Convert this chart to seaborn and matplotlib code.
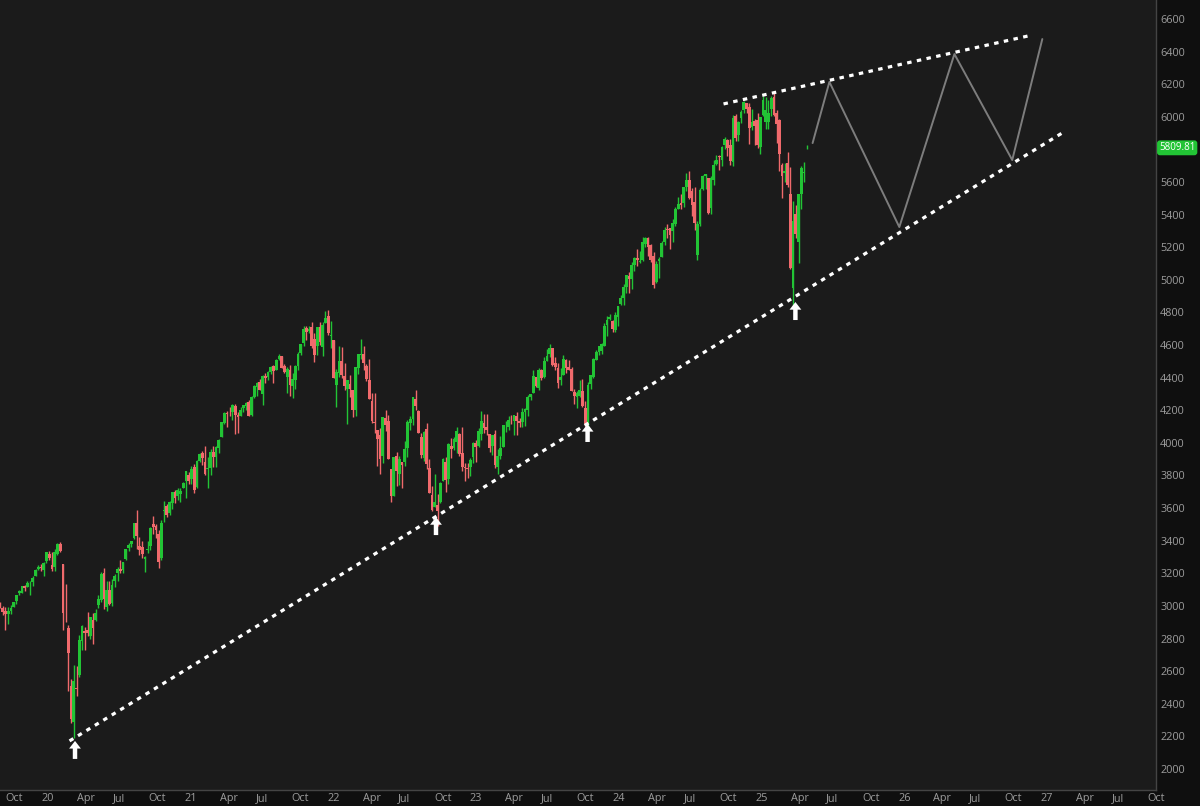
import numpy as np
import pandas as pd
import matplotlib
matplotlib.use("Agg")
import matplotlib.pyplot as plt
import matplotlib.dates as mdates
import seaborn as sns


sns.set_theme(style="dark")
plt.rcParams['font.family'] = ['Open Sans', 'DejaVu Sans']

GREEN = "#22c435"
RED = "#f06a6c"
BG_PLOT = "#1b1b1b"
BG_FIG = "#0f0f0f"
TXT = "#9d9d9d"

# weekly candles, one per week starting Monday 2019-09-02
first_week = "2019-09-02"

opens = [
    2909, 2981, 3002, 2989, 2967, 2953, 2967, 2996, 3028, 3078, 3081, 3123, 3117, 3144, 3146, 3183, 3227,
    3240, 3218, 3273, 3321, 3248, 3236, 3318, 3380, 3257, 2974, 2863, 2509, 2291, 2499, 2578, 2782, 2845,
    2854, 2815, 2915, 2914, 3005, 3038, 3199, 2994, 3095, 3018, 3155, 3205, 3224, 3219, 3289, 3356, 3380,
    3418, 3507, 3370, 3364, 3285, 3341, 3368, 3500, 3493, 3441, 3296, 3584, 3612, 3567, 3634, 3698, 3675, 3684,
    3723, 3764, 3803, 3781, 3851, 3732, 3892, 3939, 3885, 3842, 3844, 3942, 3916, 3969, 4034, 4124, 4185,
    4185, 4192, 4229, 4169, 4168, 4216, 4229, 4248, 4174, 4284, 4344, 4373, 4297, 4410, 4407, 4437, 4474,
    4450, 4513, 4535, 4469, 4403, 4449, 4348, 4385, 4474, 4553, 4610, 4707, 4689, 4712, 4640, 4592, 4710,
    4588, 4733,
    4778, 4656, 4632, 4356, 4431, 4505, 4412, 4333, 4363, 4323, 4202, 4462, 4541, 4547, 4474, 4385, 4255,
    4130, 4081, 4047, 3920, 4152, 4134, 3838, 3675, 3920, 3810, 3880, 3883, 3966, 4120, 4145, 4270, 4195,
    4035, 3909, 4083, 3849, 3682, 3609, 3619, 3638, 3765, 3882, 3780, 3982, 3966, 4005, 4052, 3939, 3853, 3843,
    3853, 3911, 3999, 3979, 4054, 4119, 4096, 4052, 3982, 4055, 3855, 3917, 3972, 4102, 4098, 4136, 4135,
    4167, 4137, 4126, 4190, 4201, 4282, 4308, 4407, 4338, 4450, 4406, 4505, 4547, 4584, 4492, 4460, 4386,
    4415, 4510, 4464, 4452, 4310, 4284, 4289, 4320, 4217, 4120, 4364, 4406, 4511, 4555, 4566, 4593, 4725, 4758,
    4745, 4690, 4772, 4853, 4888, 4957, 5026, 5003, 5093, 5131, 5111, 5123, 5219, 5258, 5211, 5149, 4987,
    5114, 5142, 5233, 5311, 5315, 5297, 5342, 5432, 5473, 5471, 5572, 5615, 5543, 5477, 5151, 5344, 5557,
    5636, 5623, 5442, 5615, 5711, 5757, 5737, 5825, 5857, 5826, 5723, 6008, 5890, 5992, 6040, 6083, 6058, 5940,
    5975, 5982, 5812, 6014, 5969, 5970, 6046, 6122, 6026, 5981, 5705, 5653, 5718, 5527, 4953, 5402, 5232,
    5526, 5656, 5808,
]
highs = [
    2985, 3021, 3022, 3002, 2993, 2993, 3008, 3027, 3067, 3098, 3121, 3127, 3154, 3150, 3183, 3226, 3248,
    3258, 3267, 3330, 3337, 3333, 3347, 3385, 3393, 3259, 3136, 2882, 2553, 2637, 2632, 2819, 2880, 2870,
    2965, 2932, 2955, 2981, 3068, 3211, 3233, 3155, 3155, 3165, 3198, 3238, 3280, 3272, 3352, 3388, 3399,
    3510, 3588, 3425, 3401, 3306, 3397, 3482, 3549, 3502, 3464, 3529, 3646, 3628, 3645, 3700, 3712, 3726, 3723,
    3760, 3827, 3823, 3861, 3870, 3895, 3937, 3950, 3978, 3915, 3960, 3983, 3978, 4021, 4129, 4191, 4194,
    4218, 4238, 4238, 4187, 4218, 4234, 4249, 4262, 4287, 4356, 4372, 4394, 4415, 4430, 4440, 4469, 4480,
    4513, 4546, 4536, 4486, 4466, 4476, 4429, 4475, 4559, 4608, 4718, 4714, 4718, 4744, 4672, 4713, 4743,
    4741, 4808,
    4818, 4749, 4632, 4453, 4595, 4590, 4490, 4338, 4416, 4325, 4465, 4546, 4637, 4593, 4484, 4513, 4308,
    4307, 4081, 4090, 4160, 4204, 4169, 3838, 3913, 3945, 3919, 3880, 4012, 4140, 4167, 4280, 4325, 4203,
    4062, 4076, 4119, 3900, 3736, 3807, 3685, 3762, 3905, 3911, 3999, 4028, 4034, 4100, 4059, 4100, 3876, 3878,
    3906, 4003, 4015, 4094, 4195, 4176, 4176, 4052, 4048, 4079, 3964, 4040, 4110, 4134, 4164, 4170, 4170,
    4187, 4154, 4212, 4213, 4291, 4299, 4448, 4407, 4458, 4456, 4527, 4578, 4607, 4585, 4527, 4490, 4458,
    4542, 4514, 4511, 4463, 4333, 4319, 4385, 4393, 4255, 4374, 4415, 4521, 4568, 4595, 4610, 4738, 4778, 4793,
    4755, 4802, 4842, 4907, 4975, 5030, 5048, 5111, 5140, 5190, 5180, 5262, 5265, 5264, 5222, 5168, 5114,
    5139, 5239, 5325, 5341, 5315, 5376, 5447, 5506, 5524, 5570, 5655, 5670, 5566, 5567, 5358, 5564, 5644,
    5651, 5623, 5636, 5733, 5768, 5767, 5822, 5878, 5866, 5862, 6012, 6018, 5972, 6044, 6099, 6085, 6085, 6050,
    5986, 6022, 5997, 6128, 6120, 6101, 6128, 6147, 6044, 5987, 5716, 5715, 5787, 5695, 5481, 5460, 5529,
    5700, 5721, 5830,
]
lows = [
    2891, 2964, 2985, 2946, 2855, 2892, 2952, 2992, 3014, 3066, 3078, 3091, 3115, 3070, 3124, 3182, 3223,
    3213, 3181, 3263, 3281, 3214, 3214, 3315, 3328, 2855, 2901, 2478, 2280, 2192, 2447, 2566, 2727, 2727,
    2815, 2798, 2767, 2910, 2988, 3025, 2984, 2966, 3004, 3000, 3115, 3152, 3200, 3204, 3284, 3335, 3363,
    3410, 3349, 3310, 3292, 3209, 3323, 3343, 3441, 3419, 3233, 3279, 3512, 3543, 3558, 3594, 3633, 3647, 3636,
    3723, 3663, 3749, 3750, 3694, 3725, 3884, 3865, 3805, 3723, 3805, 3853, 3853, 3939, 4034, 4116, 4097,
    4165, 4141, 4057, 4062, 4164, 4190, 4203, 4165, 4164, 4278, 4289, 4322, 4233, 4366, 4383, 4425, 4367,
    4447, 4509, 4457, 4427, 4306, 4288, 4278, 4329, 4448, 4538, 4596, 4630, 4672, 4585, 4495, 4540, 4600,
    4531, 4733,
    4662, 4582, 4396, 4222, 4406, 4401, 4327, 4115, 4279, 4157, 4162, 4425, 4517, 4450, 4381, 4267, 4124,
    4062, 3859, 3810, 3875, 4074, 3900, 3637, 3675, 3738, 3742, 3722, 3860, 3911, 4080, 4112, 4202, 4058,
    3907, 3887, 3837, 3693, 3584, 3608, 3491, 3630, 3764, 3698, 3749, 3906, 3956, 3938, 3918, 3828, 3764, 3784,
    3794, 3878, 3885, 3974, 4015, 4060, 4048, 3943, 3928, 3847, 3809, 3899, 3972, 4069, 4079, 4114, 4050,
    4048, 4099, 4099, 4103, 4167, 4261, 4306, 4341, 4326, 4385, 4401, 4504, 4528, 4470, 4447, 4335, 4356,
    4414, 4431, 4448, 4316, 4238, 4216, 4283, 4223, 4104, 4103, 4329, 4401, 4511, 4537, 4546, 4593, 4654, 4751,
    4682, 4682, 4714, 4845, 4845, 4918, 4920, 4946, 5057, 5087, 5104, 5113, 5204, 5146, 5107, 4953, 4979,
    5011, 5142, 5212, 5257, 5191, 5235, 5331, 5432, 5434, 5448, 5548, 5497, 5390, 5306, 5119, 5329, 5550,
    5560, 5402, 5406, 5584, 5704, 5675, 5696, 5803, 5762, 5703, 5697, 5853, 5854, 5963, 6024, 6024, 5832, 5920,
    5829, 5809, 5773, 6008, 5923, 5923, 6003, 6008, 5837, 5666, 5505, 5602, 5572, 5069, 4835, 5258, 5101,
    5434, 5602, 5800,
]
closes = [
    2979, 3007, 2992, 2962, 2952, 2970, 2986, 3023, 3067, 3093, 3120, 3110, 3141, 3146, 3169, 3221, 3240,
    3235, 3265, 3330, 3295, 3226, 3328, 3380, 3338, 2954, 2972, 2711, 2305, 2541, 2489, 2790, 2875, 2837,
    2831, 2930, 2864, 2955, 3044, 3194, 3041, 3098, 3009, 3130, 3185, 3225, 3215, 3271, 3351, 3373, 3397,
    3508, 3427, 3341, 3319, 3298, 3348, 3477, 3484, 3465, 3270, 3509, 3585, 3558, 3638, 3699, 3663, 3709, 3703,
    3756, 3825, 3768, 3841, 3714, 3887, 3934, 3907, 3811, 3842, 3943, 3913, 3974, 4020, 4129, 4185, 4180,
    4181, 4233, 4174, 4156, 4204, 4230, 4247, 4166, 4281, 4352, 4370, 4327, 4412, 4395, 4437, 4468, 4442,
    4509, 4535, 4459, 4433, 4455, 4357, 4391, 4471, 4545, 4605, 4697, 4683, 4698, 4595, 4538, 4712, 4620,
    4726, 4766,
    4677, 4663, 4398, 4432, 4501, 4419, 4349, 4385, 4329, 4204, 4463, 4543, 4546, 4488, 4393, 4272, 4132,
    4123, 4024, 3901, 4158, 4109, 3901, 3675, 3912, 3825, 3899, 3863, 3962, 4130, 4145, 4280, 4228, 4058,
    3924, 4067, 3873, 3693, 3586, 3640, 3583, 3752, 3901, 3771, 3992, 3965, 4026, 4072, 3934, 3852, 3845, 3840,
    3895, 3999, 3973, 4071, 4136, 4090, 4079, 3970, 4046, 3862, 3917, 3971, 4109, 4105, 4138, 4133, 4169,
    4136, 4124, 4192, 4205, 4282, 4299, 4410, 4348, 4450, 4399, 4505, 4536, 4582, 4478, 4464, 4370, 4406,
    4516, 4457, 4450, 4320, 4288, 4309, 4327, 4224, 4117, 4358, 4415, 4514, 4559, 4595, 4604, 4719, 4755, 4770,
    4697, 4784, 4840, 4891, 4959, 5027, 5006, 5089, 5137, 5124, 5117, 5234, 5254, 5204, 5123, 4967, 5100,
    5128, 5223, 5303, 5305, 5278, 5347, 5432, 5465, 5460, 5567, 5615, 5505, 5459, 5346, 5344, 5554, 5634,
    5648, 5408, 5626, 5703, 5738, 5751, 5815, 5864, 5808, 5729, 5995, 5870, 5969, 6032, 6090, 6051, 5931, 5970,
    5942, 5827, 5997, 6101, 6041, 6026, 6115, 6013, 5955, 5770, 5639, 5668, 5581, 5074, 5363, 5283, 5525,
    5687, 5660, 5809.81,
]

# drawn lines
upper_dates = ["2024-10-11", "2026-12-11"]
upper_vals = [6079, 6502]
lower_dates = ["2020-03-12", "2027-02-25"]
lower_vals = [2172, 5901]
path_dates = ["2025-05-27", "2025-07-09", "2026-01-04", "2026-05-25", "2026-10-20", "2027-01-05"]
path_vals = [5839, 6214, 5324, 6385, 5735, 6477]
arrow_dates = ["2020-03-26", "2022-10-06", "2023-10-29", "2025-04-13"]
arrow_tips = [2172, 3545, 4116, 4864]

y_ticks = list(range(2000, 6601, 200))
# the 5800 label sits under the last-price box
y_labels = ["" if t == 5800 else str(t) for t in y_ticks]
tick_dates = pd.date_range("2019-10-01", "2027-10-01", freq="QS")
tick_labels = [d.strftime("%y") if d.month == 1 else d.strftime("%b") for d in tick_dates]


df = pd.DataFrame({
    "date": pd.date_range(first_week, periods=len(closes), freq="W-MON"),
    "open": opens, "high": highs, "low": lows, "close": closes,
})
df["x"] = mdates.date2num(df["date"])
df["up"] = df["close"] >= df["open"]
col = np.where(df["up"], GREEN, RED)

fig = plt.figure(figsize=(12, 8.06), dpi=100, facecolor=BG_FIG)
ax = fig.add_axes([0, 16 / 806, 1156 / 1200, 790 / 806])
ax.set_facecolor(BG_PLOT)

ax.vlines(df["x"], df["low"], df["high"], colors=col, lw=1, zorder=2)
ax.bar(df["x"], (df["close"] - df["open"]).abs().clip(lower=3),
       bottom=df[["open", "close"]].min(axis=1), width=7,
       color=col, linewidth=0, zorder=3)

d2n = lambda ds: mdates.date2num(pd.to_datetime(ds))

dots = (0, (1.4, 1.7))
sns.lineplot(x=d2n(upper_dates), y=upper_vals, ax=ax, color="white", lw=2.3,
             linestyle=dots, estimator=None, sort=False, zorder=5)
sns.lineplot(x=d2n(lower_dates), y=lower_vals, ax=ax, color="white", lw=2.3,
             linestyle=dots, estimator=None, sort=False, zorder=5)
sns.lineplot(x=d2n(path_dates), y=path_vals, ax=ax, color="#7d7d7d", lw=1.4,
             estimator=None, sort=False, zorder=4)

for d, v in zip(d2n(arrow_dates), arrow_tips):
    ax.annotate("", xy=(d, v), xytext=(0, -18), textcoords="offset pixels",
                arrowprops=dict(arrowstyle="simple,head_length=0.55,head_width=0.85,tail_width=0.32",
                                fc="white", ec="white", lw=0, shrinkA=0, shrinkB=0,
                                mutation_scale=10), zorder=6)

ax.annotate(f"{closes[-1]:.2f}", xy=(1, closes[-1]), xycoords=("axes fraction", "data"),
            xytext=(3, 0), textcoords="offset pixels", ha="left", va="center",
            fontsize=7.0, color="white", annotation_clip=False,
            bbox=dict(boxstyle="round,pad=0.2,rounding_size=0.3", fc=GREEN, ec="none"))

ax.set_xlim(d2n("2019-09-16"), d2n("2027-10-23"))
ax.set_ylim(1871, 6716.5)

ax.set_xticks(d2n(tick_dates))
ax.set_xticklabels(tick_labels, ha="left")
ax.yaxis.tick_right()
ax.set_yticks(y_ticks)
ax.set_yticklabels(y_labels)
ax.tick_params(axis="both", length=0, labelsize=7.8, colors=TXT)
ax.tick_params(axis="x", pad=2)
ax.tick_params(axis="y", pad=3)
ax.set_xlabel("")
ax.set_ylabel("")
ax.grid(False)

for s in ["top", "left"]:
    ax.spines[s].set_visible(False)
for s in ["right", "bottom"]:
    ax.spines[s].set_color("#444444")
    ax.spines[s].set_linewidth(1)

fig.savefig("out.png", dpi=100, facecolor=BG_FIG)
